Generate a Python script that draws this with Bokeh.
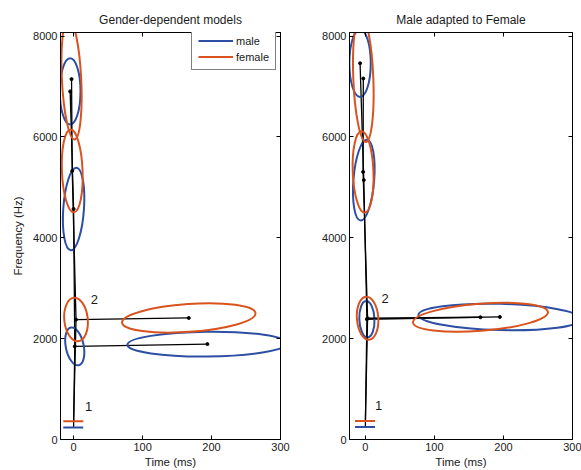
from bokeh.plotting import figure
from bokeh.layouts import row
from bokeh.models import FixedTicker, LinearAxis, Range1d, Legend, LegendItem
from bokeh.core.properties import value
from bokeh.embed import file_html
from bokeh.resources import INLINE

FONT = "Liberation Sans"
BLUE = "#2c4ea3"
ORANGE = "#d9531e"
INK = "#1a1a1a"

x_ticks = [0, 100, 200, 300]
y_ticks = [0, 2000, 4000, 6000, 8000]

# Gaussian components per model, ordered: top, middle, state-2 onset, state-2 long
# centre time (ms), centre frequency (Hz), full width (ms), full height (Hz), tilt (rad)
gd_male_t = [-5, 0, 1.7, 194]
gd_male_f = [6902, 4571, 1846, 1892]
gd_male_w = [30, 30, 26, 232]
gd_male_h = [1314, 1642, 764, 492]
gd_male_a = [0.0, -0.07, 0.2, 0.01]
gd_male_base = 236

gd_female_t = [-3, -2, 3.5, 167]
gd_female_f = [7146, 5326, 2378, 2410]
gd_female_w = [28, 30, 34, 194]
gd_female_h = [2400, 1642, 866, 551]
gd_female_a = [0.05, 0.04, 0.1, 0.07]
gd_female_base = 361

ad_male_t = [-7.7, -2.3, 2.2, 194.8]
ad_male_f = [7460, 5143, 2384, 2430]
ad_male_w = [31, 30, 22, 236]
ad_male_h = [1334, 1606, 722, 520]
ad_male_a = [0.0, -0.08, 0.04, -0.026]
ad_male_base = 250

ad_female_t = [-3, -3.3, 3.2, 166.7]
ad_female_f = [7158, 5306, 2404, 2424]
ad_female_w = [29, 30, 31, 196]
ad_female_h = [2520, 1616, 854, 540]
ad_female_a = [0.04, 0.04, 0.07, 0.078]
ad_female_base = 368

state_labels = ["1", "2"]
gd_label_t = [21.7, 30]
gd_label_f = [650, 2780]
ad_label_t = [19, 28.6]
ad_label_f = [676, 2792]

bar_t = [-15, 14]


def panel(title, male, female, lab_t, lab_f, x_start, width, bl, br, ylabel, legend):
    p = figure(width=width, height=470, x_range=Range1d(x_start, 300),
               y_range=Range1d(0, 8070), output_backend="svg",
               toolbar_location=None, min_border_left=bl, min_border_right=br,
               min_border_top=32, min_border_bottom=28, title=title)
    p.title.text_font = FONT
    p.title.text_font_size = "12px"
    p.title.text_font_style = "normal"
    p.title.text_color = INK
    p.title.align = "center"
    p.title.vertical_align = "middle"
    p.xgrid.visible = False
    p.ygrid.visible = False
    p.outline_line_color = "black"
    p.background_fill_color = "white"
    p.border_fill_color = "white"

    p.xaxis.ticker = FixedTicker(ticks=x_ticks)
    p.yaxis.ticker = FixedTicker(ticks=y_ticks)
    for ax in p.xaxis + p.yaxis:
        ax.axis_line_color = "black"
        ax.major_tick_line_color = "black"
        ax.major_tick_in = 4
        ax.major_tick_out = 0
        ax.minor_tick_line_color = None
        ax.major_label_text_font = FONT
        ax.major_label_text_font_size = "11px"
        ax.major_label_text_color = INK
        ax.major_label_standoff = 3
        ax.axis_label_text_font = FONT
        ax.axis_label_text_font_size = "11.5px"
        ax.axis_label_text_font_style = "normal"
        ax.axis_label_text_color = INK
        ax.axis_label_standoff = 2
    p.xaxis.axis_label = "Time (ms)"
    if ylabel:
        p.yaxis.axis_label = "Frequency (Hz)"
        p.yaxis.axis_label_standoff = 6

    # mirrored tick marks (no labels) on the top and right edges
    for side, ticks in (("above", x_ticks), ("right", y_ticks)):
        ax = LinearAxis(ticker=FixedTicker(ticks=ticks),
                        major_label_overrides={t: "" for t in ticks})
        ax.axis_line_color = "black"
        ax.major_tick_line_color = "black"
        ax.major_tick_in = 4
        ax.major_tick_out = 0
        ax.minor_tick_line_color = None
        ax.major_label_standoff = 0
        p.add_layout(ax, side)

    bars = []
    for (t, f, w, h, a, base), color in ((male, BLUE), (female, ORANGE)):
        # trajectory: state 1 -> state-2 onset -> middle -> top, plus long branch
        p.line([0, t[2], t[1], t[0]], [base, f[2], f[1], f[0]],
               line_color="black", line_width=1.3)
        p.line([t[2], t[3]], [f[2], f[3]], line_color="black", line_width=1.3)
        p.scatter(t, f, size=3, color="black")
        p.ellipse(x=t, y=f, width=w, height=h, angle=a, fill_color=None,
                  line_color=color, line_width=2)
        bars.append(p.line(bar_t, [base, base], line_color=color, line_width=2))

    p.text(x=lab_t, y=lab_f, text=state_labels, text_font=value(FONT),
           text_font_size="13px", text_color=INK, text_align="center",
           text_baseline="middle")

    if legend:
        lg = Legend(items=[LegendItem(label="male", renderers=[bars[0]]),
                           LegendItem(label="female", renderers=[bars[1]])],
                    location=(131, 369), orientation="vertical")
        lg.margin = 0
        lg.padding = 6
        lg.spacing = 3
        lg.glyph_width = 35
        lg.glyph_height = 13
        lg.label_height = 13
        lg.label_standoff = 3
        lg.label_text_font = FONT
        lg.label_text_font_size = "11px"
        lg.label_text_color = INK
        lg.border_line_color = "black"
        lg.border_line_width = 1
        lg.background_fill_color = "white"
        lg.background_fill_alpha = 1
        p.add_layout(lg, "center")
    return p


p1 = panel("Gender-dependent models",
           (gd_male_t, gd_male_f, gd_male_w, gd_male_h, gd_male_a, gd_male_base),
           (gd_female_t, gd_female_f, gd_female_w, gd_female_h, gd_female_a, gd_female_base),
           gd_label_t, gd_label_f, -19, 290, 60, 10, True, True)
p2 = panel("Male adapted to Female",
           (ad_male_t, ad_male_f, ad_male_w, ad_male_h, ad_male_a, ad_male_base),
           (ad_female_t, ad_female_f, ad_female_w, ad_female_h, ad_female_a, ad_female_base),
           ad_label_t, ad_label_f, -23, 291, 59, 9, False, False)

layout = row(p1, p2)
open("out.html", "w").write(file_html(layout, INLINE))
